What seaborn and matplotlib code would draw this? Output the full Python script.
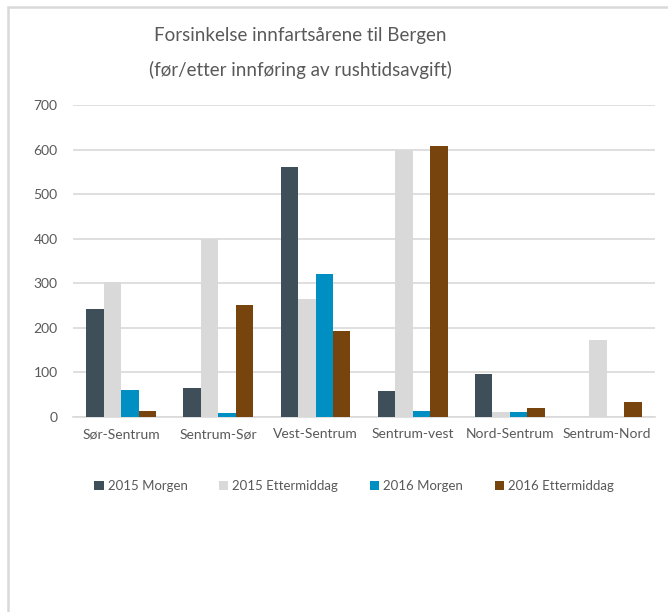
import pandas as pd
import numpy as np
import matplotlib
matplotlib.use('Agg')
import matplotlib.pyplot as plt
import seaborn as sns
from matplotlib.patches import Rectangle, Patch

# Data
routes = ['Sør-Sentrum', 'Sentrum-Sør', 'Vest-Sentrum', 'Sentrum-vest', 'Nord-Sentrum', 'Sentrum-Nord']
morgen_2015 = [242, 65, 560, 59, 97, 0]
ettermiddag_2015 = [304, 400, 264, 600, 11, 172]
morgen_2016 = [60, 8, 320, 14, 11, 1]
ettermiddag_2016 = [14, 251, 193, 607, 21, 34]
series = ['2015 Morgen', '2015 Ettermiddag', '2016 Morgen', '2016 Ettermiddag']
colors = ['#3F4F5A', '#D9D9D9', '#008FC3', '#78440E']

df = pd.DataFrame({'route': routes,
                   series[0]: morgen_2015,
                   series[1]: ettermiddag_2015,
                   series[2]: morgen_2016,
                   series[3]: ettermiddag_2016})
long = df.melt(id_vars='route', var_name='serie', value_name='forsinkelse')

sns.set_theme(style='white')
plt.rcParams['font.family'] = ['Lato', 'DejaVu Sans']
txt = '#595959'

fig = plt.figure(figsize=(6.68, 6.12), dpi=100)
ax = fig.add_axes([0.109, 0.3186, 0.872, 0.5098])

sns.barplot(data=long, x='route', y='forsinkelse', hue='serie', order=routes,
            hue_order=series, palette=colors, width=0.72, saturation=1,
            linewidth=0, legend=False, ax=ax, zorder=3)

ax.set_ylim(0, 700)
ax.set_yticks(np.arange(0, 701, 100))
ax.set_xlim(-0.5, len(routes) - 0.5)
ax.yaxis.grid(True, color='#D9D9D9', linewidth=1.2, zorder=0)
ax.set_axisbelow(True)
for s in ['top', 'right', 'left']:
    ax.spines[s].set_visible(False)
ax.spines['bottom'].set_color('#D9D9D9')
ax.spines['bottom'].set_linewidth(1.2)
ax.set_xlabel('')
ax.set_ylabel('')
ax.tick_params(axis='both', length=0, colors=txt, labelsize=10)
ax.tick_params(axis='y', pad=11)
ax.tick_params(axis='x', pad=8)

fig.text(0.45, 0.942, 'Forsinkelse innfartsårene til Bergen', ha='center', va='center',
         fontsize=13.5, color=txt)
fig.text(0.45, 0.886, '(før/etter innføring av rushtidsavgift)', ha='center', va='center',
         fontsize=13.5, color=txt)

handles = [Patch(facecolor=c, edgecolor='none') for c in colors]
fig.legend(handles, series, loc='center', bbox_to_anchor=(0.53, 0.206), ncol=4,
           frameon=False, fontsize=9.5, labelcolor=txt, handlelength=0.7,
           handleheight=0.7, handletextpad=0.3, columnspacing=2.4)

# chart frame (top and left edges visible)
fig.add_artist(Rectangle((0.012, -0.05), 1.1, 1.039, transform=fig.transFigure,
                         fill=False, edgecolor='#D9D9D9', linewidth=1.8))

fig.savefig('out.png', dpi=100)
